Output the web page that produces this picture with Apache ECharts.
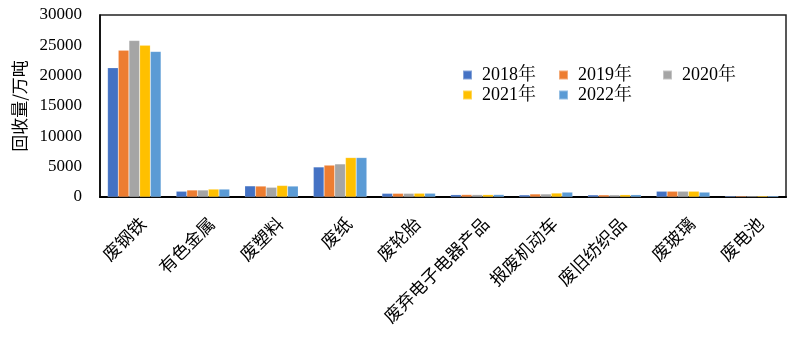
<!DOCTYPE html>
<html><head><meta charset="utf-8">
<script src="https://cdn.jsdelivr.net/npm/echarts@6/dist/echarts.min.js"></script>
<style>html,body{margin:0;padding:0;background:#fff}#c{width:800px;height:355px}</style>
</head><body><div id="c"></div>
<script>
const categories = ["废钢铁","有色金属","废塑料","废纸","废轮胎","废弃电子电器产品","报废机动车","废旧纺织品","废玻璃","废电池"];
const years = ["2018年","2019年","2020年","2021年","2022年"];
const v2018 = [21300, 950, 1830, 4950, 600, 380, 350, 350, 950, 180];
const v2019 = [24200, 1150, 1800, 5250, 600, 400, 500, 350, 950, 180];
const v2020 = [25800, 1150, 1600, 5450, 600, 390, 500, 350, 950, 180];
const v2021 = [25000, 1300, 1900, 6500, 620, 390, 650, 380, 950, 200];
const v2022 = [24000, 1300, 1800, 6500, 620, 400, 800, 380, 800, 200];
const yTicks = [0, 5000, 10000, 15000, 20000, 25000, 30000];
const colors = ["#4472C4","#ED7D31","#A5A5A5","#FFC000","#5B9BD5"];
const seriesValues = [v2018, v2019, v2020, v2021, v2022];

const serif = '"Times New Roman","Liberation Serif","Noto Serif CJK SC","Noto Sans CJK SC",serif';
const legendPos = [[457,61],[553,61],[657,61],[457,81],[553,81]];

const chart = echarts.init(document.getElementById('c'));
chart.setOption({
  animation: false,
  grid: {left: 100, right: 14, top: 15, bottom: 158, show: true, borderColor: '#222', borderWidth: 1.5},
  legend: years.map((y, i) => ({
    data: [y], left: legendPos[i][0], top: legendPos[i][1],
    icon: 'rect', itemWidth: 9, itemHeight: 9, itemGap: 6,
    textStyle: {fontFamily: serif, fontSize: 18, color: '#000', padding: [0,0,0,5]}
  })),
  xAxis: {
    type: 'category', data: categories,
    axisLine: {lineStyle: {color: '#000', width: 2}},
    axisTick: {show: false},
    axisLabel: {rotate: 45, interval: 0, fontSize: 17.5, color: '#000', margin: 32,
      padding: [0, -12, 0, 0],
      fontFamily: '"Noto Sans CJK SC",sans-serif'}
  },
  yAxis: {
    type: 'value', min: 0, max: 30000, interval: 5000,
    name: '回收量/万吨', nameLocation: 'middle', nameGap: 72,
    nameTextStyle: {fontSize: 17, color: '#000', fontFamily: '"Noto Sans CJK SC",sans-serif'},
    axisLine: {show: true, lineStyle: {color: '#000', width: 1.5}},
    axisTick: {show: false},
    splitLine: {show: false},
    axisLabel: {fontSize: 17, color: '#000', margin: 18, fontFamily: serif,
      formatter: v => yTicks.includes(v) ? String(v) : ''}
  },
  series: years.map((y, i) => ({
    name: y, type: 'bar', data: seriesValues[i],
    barGap: '0%', barCategoryGap: '22%',
    itemStyle: {color: colors[i], borderColor: 'rgba(255,255,255,0.35)', borderWidth: 0.5}
  }))
});
</script></body></html>
